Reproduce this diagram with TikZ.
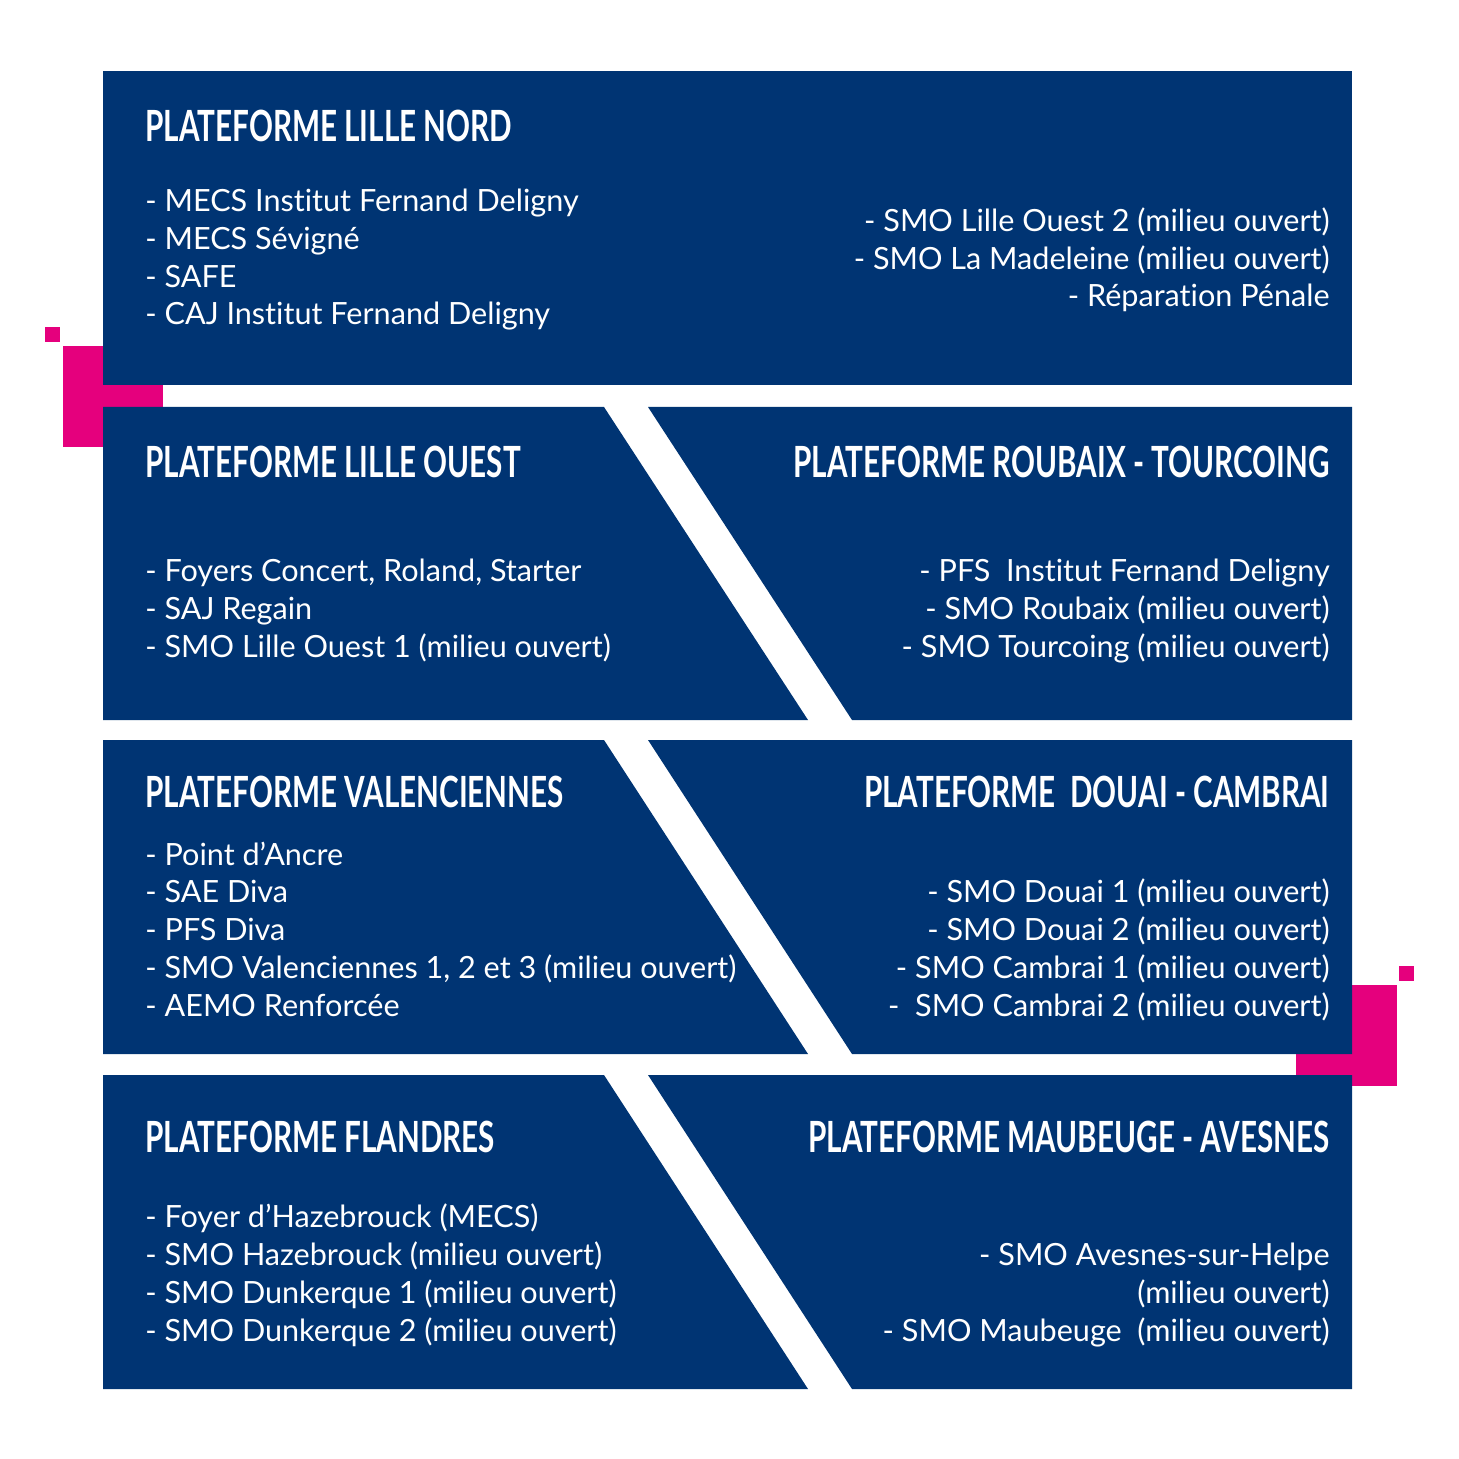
\documentclass[tikz,border=0pt]{standalone}
\usepackage{fontspec}
\setmainfont[Ligatures=NoCommon]{Lato}
\newfontfamily\titlefont[FakeStretch=0.69]{Lato}
\definecolor{navy}{RGB}{0,52,115}
\definecolor{magenta}{RGB}{229,0,125}

\begin{document}
\begin{tikzpicture}[
    x=0.5pt, y=-0.5pt,
    panel/.style={fill=navy, draw=none},
    accent/.style={fill=magenta, draw=none},
    headtxt/.style={text=white, inner sep=0pt, font=\titlefont\bfseries\fontsize{21.5}{21.5}\selectfont},
    listtxt/.style={text=white, inner sep=0pt, font=\fontsize{15.3}{18.85}\selectfont},
    leftlist/.style={listtxt, align=left, anchor=base west},
    rightlist/.style={listtxt, align=right, anchor=base east}
]
    \useasboundingbox (0,0) rectangle (1459,1459);

    % pink squares behind the panels
    \fill[accent] (45,327) rectangle (60,342);
    \fill[accent] (63,346) rectangle (163,447);
    \fill[accent] (1399,966) rectangle (1414,981);
    \fill[accent] (1296,985) rectangle (1397,1086);

    % panels
    \fill[panel] (103,71) rectangle (1352,385);
    \foreach \ytop/\ybot in {407/720, 740/1054, 1075/1389} {
        \fill[panel] (103,\ytop) -- (604,\ytop) -- (808,\ybot) -- (103,\ybot) -- cycle;
        \fill[panel] (648,\ytop) -- (1352,\ytop) -- (1352,\ybot) -- (852,\ybot) -- cycle;
    }

    % Lille Nord (lists are placed by the baseline of their last line)
    \node[headtxt, anchor=base west] (nordtitle) at (145,142) {PLATEFORME LILLE NORD};
    \node[leftlist] (nordleft) at (145,325) {- MECS Institut Fernand Deligny\\- MECS Sévigné\\- SAFE\\- CAJ Institut Fernand Deligny};
    \node[rightlist] (nordright) at (1330,307) {- SMO Lille Ouest 2 (milieu ouvert)\\- SMO La Madeleine (milieu ouvert)\\- Réparation Pénale};

    % Lille Ouest / Roubaix - Tourcoing
    \node[headtxt, anchor=base west] (ouesttitle) at (145,478) {PLATEFORME LILLE OUEST};
    \node[leftlist] (ouestlist) at (145,657) {- Foyers Concert, Roland, Starter\\- SAJ Regain\\- SMO Lille Ouest 1 (milieu ouvert)};
    \node[headtxt, anchor=base east] (roubaixtitle) at (1330,478) {PLATEFORME ROUBAIX - TOURCOING};
    \node[rightlist] (roubaixlist) at (1330,657) {- PFS\ \ Institut Fernand Deligny\\- SMO Roubaix (milieu ouvert)\\- SMO Tourcoing (milieu ouvert)};

    % Valenciennes / Douai - Cambrai
    \node[headtxt, anchor=base west] (valtitle) at (145,807) {PLATEFORME VALENCIENNES};
    \node[leftlist] (vallist) at (145,1016) {- Point d’Ancre\\- SAE Diva\\- PFS Diva\\- SMO Valenciennes 1, 2 et 3 (milieu ouvert)\\- AEMO Renforcée};
    \node[headtxt, anchor=base east] (douaititle) at (1330,807) {PLATEFORME\ \ DOUAI - CAMBRAI};
    \node[rightlist] (douailist) at (1330,1016) {- SMO Douai 1 (milieu ouvert)\\- SMO Douai 2 (milieu ouvert)\\- SMO Cambrai 1 (milieu ouvert)\\-\ \ SMO Cambrai 2 (milieu ouvert)};

    % Flandres / Maubeuge - Avesnes
    \node[headtxt, anchor=base west] (flandtitle) at (145,1152) {PLATEFORME FLANDRES};
    \node[leftlist] (flandlist) at (145,1341) {- Foyer d’Hazebrouck (MECS)\\- SMO Hazebrouck (milieu ouvert)\\- SMO Dunkerque 1 (milieu ouvert)\\- SMO Dunkerque 2 (milieu ouvert)};
    \node[headtxt, anchor=base east] (maubtitle) at (1330,1152) {PLATEFORME MAUBEUGE - AVESNES};
    \node[rightlist] (maublist) at (1330,1341) {- SMO Avesnes-sur-Helpe\\(milieu ouvert)\\- SMO Maubeuge\ \ (milieu ouvert)};
\end{tikzpicture}
\end{document}
